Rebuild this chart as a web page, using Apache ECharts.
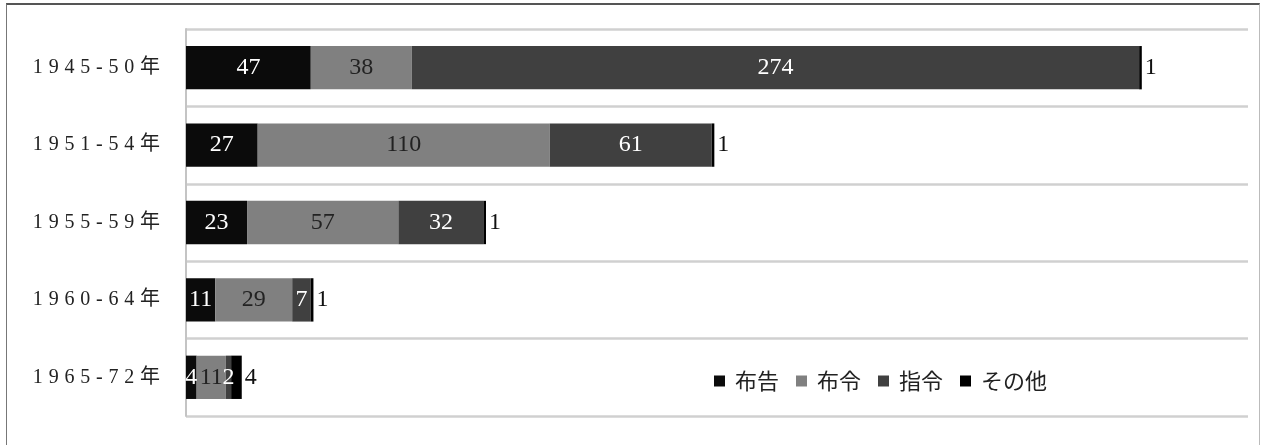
<!DOCTYPE html>
<html><head><meta charset="utf-8">
<script src="https://cdn.jsdelivr.net/npm/echarts@6/dist/echarts.min.js"></script>
<style>
html,body{margin:0;padding:0;background:#fff;}
#frame{position:absolute;left:6px;top:3px;width:1254px;height:450px;border-left:1px solid #777;border-top:2px solid #555;border-right:1px solid #bbb;box-sizing:border-box;}
#c{position:absolute;left:0;top:0;width:1261px;height:445px;}
</style></head>
<body>
<div id="frame"></div>
<div id="c"></div>
<script>
const categories = ['1945-50年','1951-54年','1955-59年','1960-64年','1965-72年'];
const seriesNames = ['布告','布令','指令','その他'];
const fukoku = [47, 27, 23, 11, 4];
const furei = [38, 110, 57, 29, 11];
const shirei = [274, 61, 32, 7, 2];
const sonota = [1, 1, 1, 1, 4];
const xMax = 400;

const colors = ['#0b0b0b', '#808080', '#404040', '#000000'];
const labelColors = ['#ffffff', '#222222', '#ffffff', '#111111'];
const fontFam = '"Liberation Serif", "DejaVu Serif", "Noto Sans CJK JP", serif';
const values = [fukoku, furei, shirei, sonota];

const chart = echarts.init(document.getElementById('c'), null, {renderer:'canvas'});
chart.setOption({
  animation: false,
  textStyle: {fontFamily: fontFam},
  grid: {left: 186, right: 13, top: 29, bottom: 29, containLabel: false},
  legend: {
    data: seriesNames,
    left: 709, top: 365,
    itemWidth: 11, itemHeight: 11, itemGap: 17,
    icon: 'rect',
    textStyle: {fontSize: 22, color: '#222', fontFamily: '"Noto Sans CJK JP", serif', padding: [0,0,0,5]}
  },
  xAxis: {type: 'value', min: 0, max: xMax, show: false},
  yAxis: {
    type: 'category', data: categories, inverse: true,
    axisLine: {show: true, lineStyle: {color: '#c4c4c4', width: 2}},
    axisTick: {show: false},
    splitLine: {show: true, lineStyle: {color: '#d0d0d0', width: 2.5}},
    axisLabel: {
      margin: 23,
      fontSize: 20,
      color: '#222',
      fontFamily: fontFam,
      formatter: v => v.split('').map(ch => '{s|' + ch + '}').join(''),
      rich: {s: {fontSize: 20, color: '#222', fontFamily: fontFam, padding: [0, 2.9]}}
    }
  },
  series: seriesNames.map((n, i) => ({
    name: n, type: 'bar', stack: 'all', barWidth: '56%',
    data: values[i],
    itemStyle: {color: colors[i]},
    label: {
      show: true,
      position: i === 3 ? 'right' : 'inside',
      distance: 3,
      color: labelColors[i],
      fontSize: 24,
      fontFamily: fontFam
    }
  }))
});
</script>
</body></html>
